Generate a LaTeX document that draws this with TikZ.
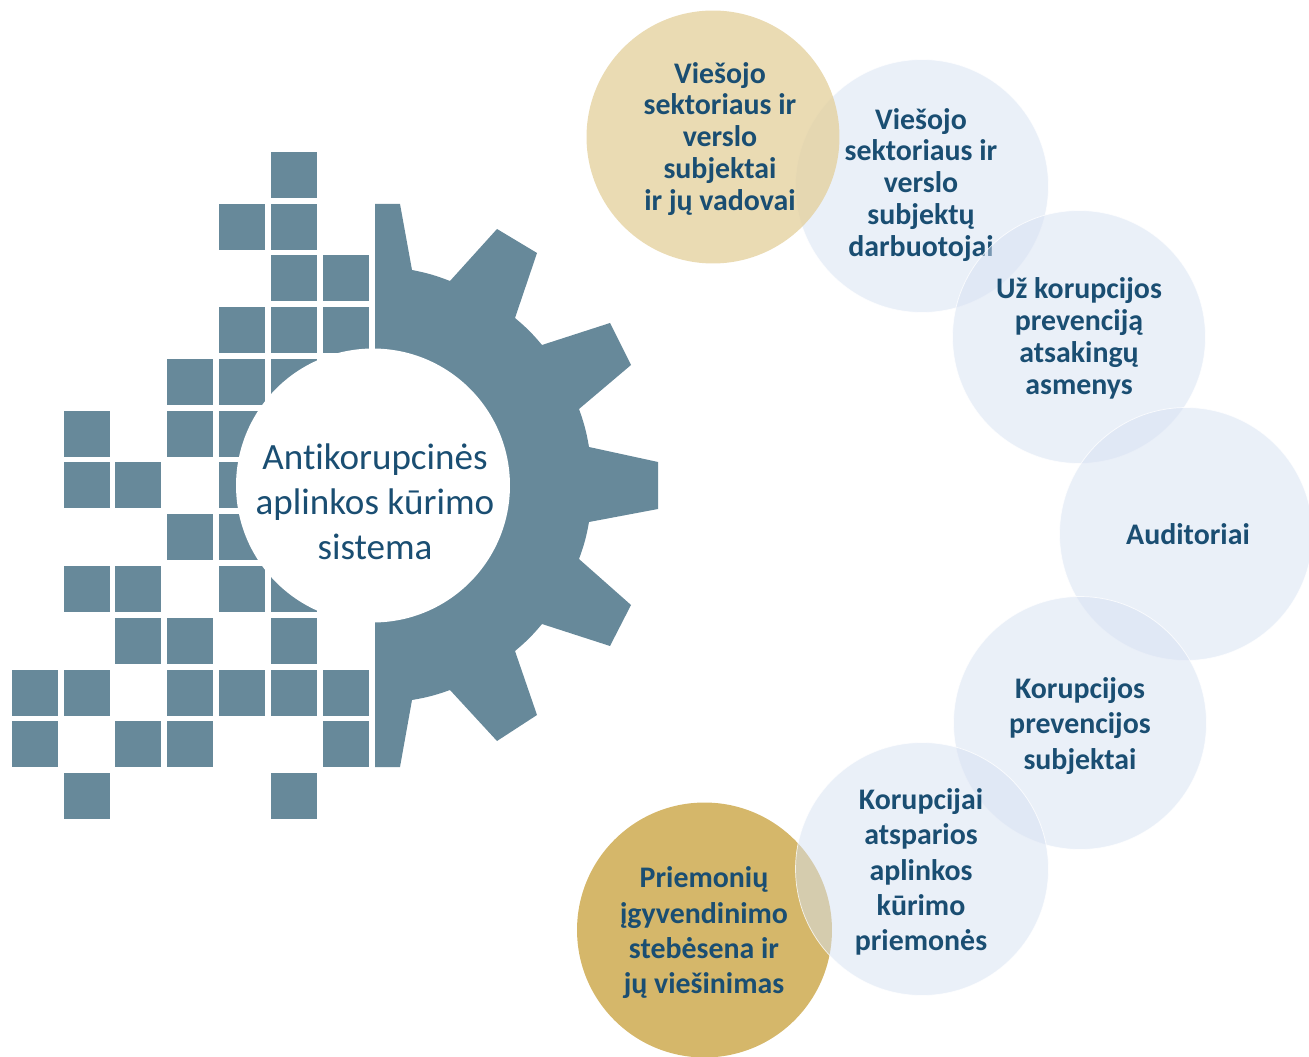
\documentclass[tikz,border=0pt]{standalone}
\usepackage{fontspec}
\setmainfont[Ligatures=NoCommon]{Carlito}
\definecolor{gearblue}{HTML}{67899A}
\definecolor{inkblue}{HTML}{1A4E72}
\definecolor{paleblue}{HTML}{D6E1F2}
\definecolor{lightgold}{RGB}{227,207,154}
\definecolor{darkgold}{HTML}{D5B76A}
\tikzset{
	bubble/.style={circle,minimum size=5.06cm,inner sep=0pt},
	glass/.style={bubble,fill=paleblue,fill opacity=0.5,draw=white,draw opacity=0.8,line width=0.4pt},
	tight/.style={align=center,text=inkblue,font=\fontsize{17}{18.2}\selectfont\bfseries},
	wide/.style={align=center,text=inkblue,font=\fontsize{17}{20.1}\selectfont\bfseries},
}
\begin{document}
\begin{tikzpicture}[x=0.02cm,y=-0.02cm]
	\useasboundingbox (0,0) rectangle (1309,1057);

	\foreach \x/\y in {271/152,
		219/204,271/204,
		271/255,323/255,
		219/307,271/307,323/307,
		167/359,219/359,271/359,
		64/411,167/411,219/411,
		64/462,115/462,219/462,
		167/514,219/514,
		64/566,115/566,219/566,271/566,
		115/618,167/618,271/618,
		12/670,64/670,167/670,219/670,271/670,323/670,
		12/721,115/721,167/721,323/721,
		64/773,271/773}
		\fill[gearblue] (\x,\y) rectangle ++(46,46);

	\fill[gearblue] (375,204) -- (400,204) -- (412,270) to[bend left=5] (450,281) -- (497,229) -- (537,253)
		-- (515,318) to[bend left=5] (542,345) -- (610,323) -- (631,365) -- (579,409) to[bend left=5] (589,447)
		-- (658,462) -- (658,509) -- (589,522) to[bend left=5] (579,559) -- (631,605) -- (610,646) -- (542,624)
		to[bend left=5] (515,651) -- (537,715) -- (497,741) -- (450,690) to[bend left=5] (412,700)
		-- (400,767) -- (375,767) -- cycle;

	\node[circle,fill=white,minimum size=5.48cm,inner sep=0pt] (hub) at (373,485.5) {};
	\node[align=center,text=inkblue,font=\fontsize{21.1}{25.6}\selectfont] (hubtext) at (375,502)
		{Antikorupcinės\\aplinkos kūrimo\\sistema};

	\node[bubble,minimum size=5.1cm,fill=darkgold] (monitoring) at (704.5,930) {};
	\node[wide] (monitoringtext) at (704,933) {Priemonių\\įgyvendinimo\\stebėsena ir\\jų viešinimas};

	\node[glass] (staff) at (922,186) {};
	\node[tight] (stafftext) at (921,185) {Viešojo\\sektoriaus ir\\verslo\\subjektų\\darbuotojai};

	\node[bubble,fill=lightgold,fill opacity=0.75] (heads) at (713,137) {};
	\node[tight] (headstext) at (720,139) {Viešojo\\sektoriaus ir\\verslo\\subjektai\\ir jų vadovai};

	\node[glass] (officers) at (1079,337) {};
	\node[tight] (officerstext) at (1079,338) {Už korupcijos\\prevenciją\\atsakingų\\asmenys};

	\node[glass] (auditors) at (1186,534) {};
	\node[tight] (auditorstext) at (1188,534) {Auditoriai};

	\node[glass] (subjects) at (1080,723) {};
	\node[wide] (subjectstext) at (1080,726) {Korupcijos\\prevencijos\\subjektai};

	\node[glass] (measures) at (922,869) {};
	\node[wide] (measurestext) at (921,872) {Korupcijai\\atsparios\\aplinkos\\kūrimo\\priemonės};
\end{tikzpicture}
\end{document}
